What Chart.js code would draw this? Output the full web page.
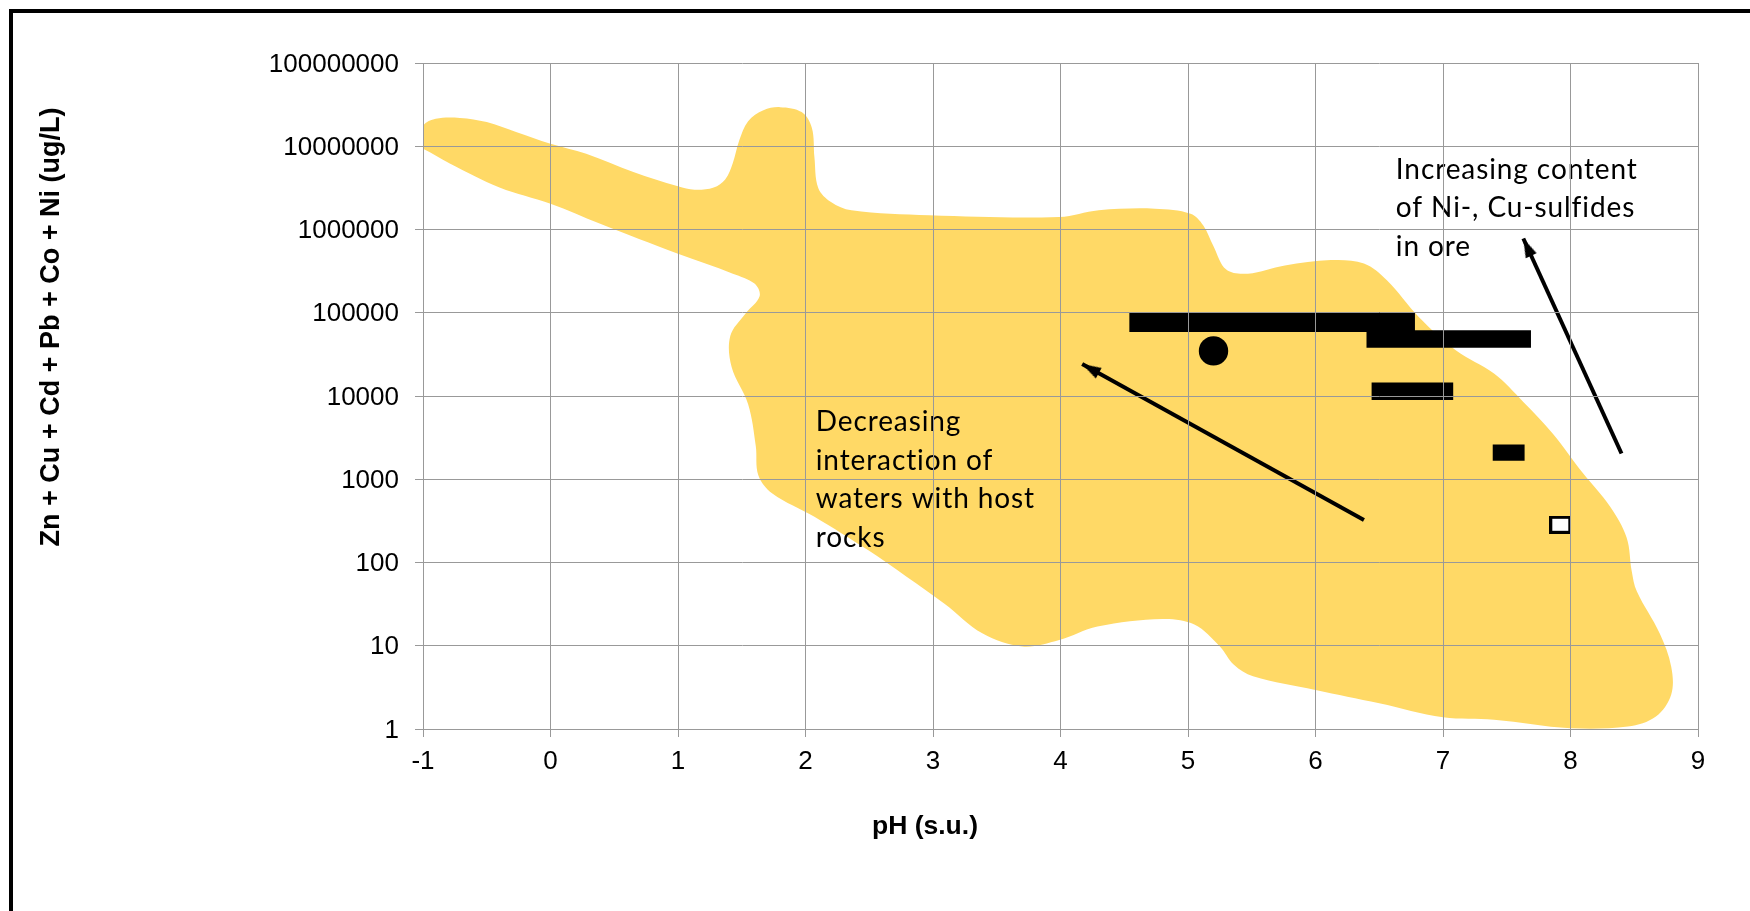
<!DOCTYPE html>
<html>
<head>
<meta charset="utf-8">
<script src="https://cdn.jsdelivr.net/npm/chart.js@4.4.1/dist/chart.umd.min.js"></script>
<style>
  html, body { margin: 0; padding: 0; background: #fff; overflow: hidden; }
  #wrap { position: relative; width: 1750px; height: 911px; }
  #c { position: absolute; left: 0; top: 0; }
  #frame { position: absolute; left: 9px; top: 9px; width: 1800px; height: 1000px;
           border: 4px solid #000; pointer-events: none; }
</style>
</head>
<body>
<div id="wrap">
  <canvas id="c" width="1750" height="911"></canvas>
  <div id="frame"></div>
</div>
<script>
// Axis ticks
const phTicks = [-1, 0, 1, 2, 3, 4, 5, 6, 7, 8, 9];
const metalTicks = [1, 10, 100, 1000, 10000, 100000, 1000000, 10000000, 100000000];

// Outline of the field of mine waters (pH, Zn+Cu+Cd+Pb+Co+Ni in ug/L), traced clockwise
const fieldPH = [-1.08, -1.0, -0.9, -0.71, -0.5, -0.27, 0.0, 0.28, 0.65, 1.0,
  1.13, 1.28, 1.37, 1.43, 1.48, 1.55, 1.67, 1.8, 1.97, 2.05,
  2.07, 2.1, 2.2, 2.36, 2.97, 3.99, 4.3, 4.74, 5.02, 5.12,
  5.2, 5.3, 5.47, 5.76, 6.12, 6.38, 6.56, 6.81, 7.1, 7.4,
  7.63, 7.86, 8.1, 8.31, 8.44, 8.48, 8.52, 8.7, 8.79, 8.79,
  8.67, 8.45, 8.0, 7.4, 7.0, 6.5, 6.0, 5.51, 5.36, 5.25,
  5.05, 4.8, 4.29, 3.99, 3.7, 3.39, 3.09, 2.79, 2.49, 2.07,
  1.74, 1.63, 1.61, 1.55, 1.42, 1.41, 1.53, 1.64, 1.6, 1.43,
  1.0, 0.39, 0.0, -0.4, -0.79, -1.0, -1.08];
const fieldMetals = [1.0e7, 1.78e7, 2.14e7, 2.19e7, 1.95e7, 1.48e7, 1.07e7, 8.1e6, 4.9e6, 3.3e6,
  3.0e6, 3.2e6, 4.0e6, 6.3e6, 1.17e7, 2.0e7, 2.7e7, 2.95e7, 2.57e7, 1.66e7,
  7.4e6, 3.16e6, 2.14e6, 1.7e6, 1.48e6, 1.41e6, 1.7e6, 1.78e6, 1.55e6, 1.12e6,
  6.3e5, 3.3e5, 2.95e5, 3.7e5, 4.3e5, 3.9e5, 2.45e5, 8.9e4, 3.55e4, 1.86e4,
  8.5e3, 3.55e3, 1.17e3, 470, 200, 79, 45, 14, 5.6, 2.6,
  1.41, 1.07, 1.02, 1.29, 1.38, 2.04, 2.95, 4.3, 5.9, 9.8,
  18, 21, 17, 11.7, 9.8, 14, 32, 68, 141, 355,
  676, 1120, 2510, 7940, 2.24e4, 5.25e4, 9.8e4, 1.58e5, 2.24e5, 2.95e5,
  5.1e5, 1.17e6, 2.04e6, 3.2e6, 6.2e6, 9.3e6, 1.0e7];

// pH ranges of sample groups and their metal sums
const rangeFromPH = [4.54, 6.40, 6.44, 7.39];
const rangeToPH   = [6.78, 7.69, 7.08, 7.64];
const rangeMetals = [77600, 48400, 11400, 2090];

// single samples
const dotPH = [5.20];
const dotMetals = [34800];
const boxPH = [7.92];
const boxMetals = [284];

// trend arrows: tail -> head
const arrowFromPH = [6.38, 8.40];
const arrowFromMetals = [324, 2040];
const arrowToPH = [4.17, 7.63];
const arrowToMetals = [24200, 780000];

// text notes anchored at the first line's baseline
const noteLines = [
  ['Decreasing', 'interaction of', 'waters with host', 'rocks'],
  ['Increasing content', 'of Ni-, Cu-sulfides', 'in ore']
];
const notePH = [2.08, 6.63];
const noteMetals = [3780, 4.09e6];

// ---- styles ----
const FIELD_COLOR = '#FFD966';
const GRID_COLOR = '#999999';
const rangeThickness = [20, 17.7, 17.4, 16.4];

function makeArrowHead(len, half) {
  const c = document.createElement('canvas');
  c.width = Math.ceil(half * 2) + 2;
  c.height = len * 2;
  const g = c.getContext('2d');
  const cx = c.width / 2;
  g.fillStyle = '#000';
  g.beginPath();
  g.moveTo(cx, len);
  g.lineTo(cx + half, len * 2);
  g.lineTo(cx - half, len * 2);
  g.closePath();
  g.fill();
  return c;
}
function makeOpenBox(w, h, lw) {
  const c = document.createElement('canvas');
  c.width = w; c.height = h;
  const g = c.getContext('2d');
  g.fillStyle = '#000';
  g.fillRect(0, 0, w, h);
  g.fillStyle = '#fff';
  g.fillRect(lw, lw, w - 2 * lw, h - 2 * lw);
  return c;
}
const arrowHead = makeArrowHead(19, 6);
const openBox = makeOpenBox(22, 18, 3);

const datasets = [];

// yellow field (drawn first, under everything)
datasets.push({
  data: fieldPH.map((p, i) => ({ x: p, y: fieldMetals[i] })),
  showLine: true,
  fill: 'shape',
  backgroundColor: FIELD_COLOR,
  borderColor: 'rgba(0,0,0,0)',
  borderWidth: 0,
  pointRadius: 0,
  tension: 0.35,
  order: 10
});

// range bars
rangeFromPH.forEach((p, i) => {
  datasets.push({
    data: [{ x: p, y: rangeMetals[i] }, { x: rangeToPH[i], y: rangeMetals[i] }],
    showLine: true,
    borderColor: '#000',
    borderWidth: rangeThickness[i],
    borderCapStyle: 'butt',
    pointRadius: 0,
    order: 1
  });
});

// filled circle sample
datasets.push({
  data: dotPH.map((p, i) => ({ x: p, y: dotMetals[i] })),
  pointStyle: 'circle',
  pointRadius: 14.7,
  pointBackgroundColor: '#000',
  pointBorderColor: '#000',
  pointBorderWidth: 0,
  order: 1
});

// open box sample
datasets.push({
  data: boxPH.map((p, i) => ({ x: p, y: boxMetals[i] })),
  pointStyle: openBox,
  pointRadius: 10,
  order: 1
});

// arrows
arrowFromPH.forEach((p, i) => {
  datasets.push({
    data: [{ x: p, y: arrowFromMetals[i] }, { x: arrowToPH[i], y: arrowToMetals[i] }],
    showLine: true,
    borderColor: '#000',
    borderWidth: 4,
    borderCapStyle: 'butt',
    pointStyle: arrowHead,
    pointRadius: (ctx) => (ctx.dataIndex === 1 ? 10 : 0),
    pointRotation: (ctx) => {
      const d = ctx.dataset.data;
      const sx = ctx.chart.scales.x, sy = ctx.chart.scales.y;
      const dx = sx.getPixelForValue(d[1].x) - sx.getPixelForValue(d[0].x);
      const dy = sy.getPixelForValue(d[1].y) - sy.getPixelForValue(d[0].y);
      return Math.atan2(dx, -dy) * 180 / Math.PI;
    },
    order: 0
  });
});

const notesPlugin = {
  id: 'notes',
  afterDatasetsDraw(chart) {
    const { ctx, scales: { x, y } } = chart;
    ctx.save();
    ctx.font = '28px Lato';
    if ('letterSpacing' in ctx) ctx.letterSpacing = '0.9px';
    ctx.fillStyle = '#000';
    ctx.textAlign = 'left';
    ctx.textBaseline = 'alphabetic';
    noteLines.forEach((lines, n) => {
      const px = x.getPixelForValue(notePH[n]);
      const py = y.getPixelForValue(noteMetals[n]);
      lines.forEach((t, i) => ctx.fillText(t, px, py + i * 38.5));
    });
    ctx.restore();
  },
  afterDraw(chart) {
    const ctx = chart.ctx;
    ctx.save();
    ctx.fillStyle = '#000';
    ctx.textAlign = 'center';
    ctx.textBaseline = 'alphabetic';
    ctx.font = 'bold 26.5px "Liberation Sans"';
    ctx.fillText('pH (s.u.)', 925, 834);
    ctx.font = 'bold 27px "Liberation Sans"';
    ctx.translate(58.5, 327);
    ctx.rotate(-Math.PI / 2);
    ctx.fillText('Zn + Cu + Cd + Pb + Co + Ni (ug/L)', 0, 0);
    ctx.restore();
  }
};

const tickFont = { family: '"Liberation Sans"', size: 26 };

new Chart(document.getElementById('c'), {
  type: 'scatter',
  data: { datasets },
  options: {
    responsive: false,
    animation: false,
    devicePixelRatio: 1,
    events: [],
    layout: { padding: { top: 63, right: 52, bottom: 0, left: 0 } },
    plugins: { legend: { display: false }, tooltip: { enabled: false } },
    scales: {
      x: {
        type: 'linear',
        min: -1, max: 9,
        afterBuildTicks: (s) => { s.ticks = phTicks.map(v => ({ value: v })); },
        afterFit: (s) => { s.height = 182; },
        grid: { color: GRID_COLOR, lineWidth: 1, tickLength: 8, z: 1 },
        border: { color: GRID_COLOR, width: 1, z: 1 },
        ticks: { color: '#000', font: tickFont, padding: 9, maxRotation: 0, autoSkip: false }
      },
      y: {
        type: 'logarithmic',
        min: 1, max: 100000000,
        afterBuildTicks: (s) => { s.ticks = metalTicks.map(v => ({ value: v })); },
        afterFit: (s) => { s.width = 423; },
        grid: { color: GRID_COLOR, lineWidth: 1, tickLength: 8, z: 1 },
        border: { color: GRID_COLOR, width: 1, z: 1 },
        ticks: { color: '#000', font: tickFont, padding: 16, autoSkip: false, labelOffset: 1.5,
                 callback: (v) => String(v) }
      }
    }
  },
  plugins: [notesPlugin]
});
</script>
</body>
</html>
